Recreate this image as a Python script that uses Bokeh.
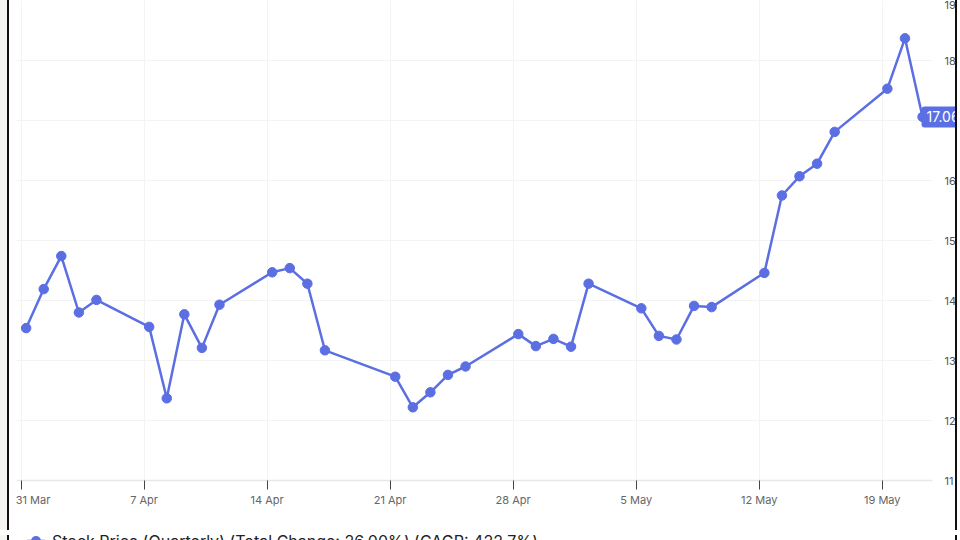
import pandas as pd
from bokeh.plotting import figure
from bokeh.layouts import column
from bokeh.models import (Range1d, FixedTicker, DatetimeTickFormatter,
                          Label, ColumnDataSource, Div)
from bokeh.embed import file_html
from bokeh.resources import INLINE

# ---- data -------------------------------------------------------------
dates = ["2025-03-31", "2025-04-01", "2025-04-02", "2025-04-03", "2025-04-04",
         "2025-04-07", "2025-04-08", "2025-04-09", "2025-04-10", "2025-04-11",
         "2025-04-14", "2025-04-15", "2025-04-16", "2025-04-17",
         "2025-04-21", "2025-04-22", "2025-04-23", "2025-04-24", "2025-04-25",
         "2025-04-28", "2025-04-29", "2025-04-30", "2025-05-01", "2025-05-02",
         "2025-05-05", "2025-05-06", "2025-05-07", "2025-05-08", "2025-05-09",
         "2025-05-12", "2025-05-13", "2025-05-14", "2025-05-15", "2025-05-16",
         "2025-05-19", "2025-05-20", "2025-05-21"]
prices = [13.54, 14.19, 14.74, 13.80, 14.01,
          13.56, 12.37, 13.77, 13.21, 13.93,
          14.47, 14.54, 14.28, 13.17,
          12.73, 12.22, 12.47, 12.76, 12.90,
          13.44, 13.24, 13.36, 13.23, 14.28,
          13.87, 13.41, 13.35, 13.91, 13.89,
          14.46, 15.75, 16.07, 16.28, 16.81,
          17.53, 18.37, 17.06]
tick_dates = ["2025-03-31", "2025-04-07", "2025-04-14", "2025-04-21",
              "2025-04-28", "2025-05-05", "2025-05-12", "2025-05-19"]
y_ticks = [11, 12, 13, 14, 15, 16, 17, 18, 19]
series_name = "Stock Price (Quarterly) (Total Change: 26.00%) (CAGR: 422.7%)"
last_label = "17.06"

# ---- styling ----------------------------------------------------------
BLUE = "#5b6fe3"
FONT = "Inter"
session_hour = pd.Timedelta(hours=7)   # quote time within each trading day

x = pd.to_datetime(dates) + session_hour
src = ColumnDataSource(dict(x=x, y=prices))

x_start = pd.Timestamp("2025-03-30 17:50")
x_end = pd.Timestamp("2025-05-23 04:00")
axis_end = pd.Timestamp("2025-05-21 20:28")

def ms(t):
    return pd.Timestamp(t).value / 1e6

frame_styles = {"margin-left": "7px",
                "border-left": "2px solid #111", "border-right": "2px solid #111",
                "box-shadow": "-7px 0 0 0 #f6f5f2"}

p = figure(width=950, height=530, x_axis_type="datetime",
           x_range=Range1d(x_start, x_end), y_range=Range1d(11, 19),
           output_backend="svg", toolbar_location=None,
           min_border_left=7, min_border_right=2, min_border_top=0,
           min_border_bottom=50, y_axis_location="right",
           styles=frame_styles)
p.outline_line_color = None
p.background_fill_color = "white"
p.border_fill_color = "white"

# grid
p.xgrid.grid_line_color = "#f3f3f3"
p.ygrid.grid_line_color = "#f3f3f3"
if "cross_bounds" in p.ygrid[0].properties():
    p.ygrid[0].cross_bounds = (ms(x_start), ms(axis_end))

# x axis
xa = p.xaxis[0]
xa.ticker = FixedTicker(ticks=[ms(d) for d in tick_dates])
p.xgrid.ticker = xa.ticker
xa.formatter = DatetimeTickFormatter(days="%-d %b", months="%-d %b")
first_txt = pd.Timestamp(tick_dates[0]).strftime("%-d %b")
xa.major_label_overrides = {ms(tick_dates[0]): "\u00a0" * 2 + first_txt}
xa.bounds = (ms(x_start), ms(axis_end))
xa.axis_line_color = "#e8e8e8"
xa.axis_line_width = 1.5
xa.major_tick_line_color = "#444444"
xa.major_tick_out = 9
xa.major_tick_in = 0
xa.minor_tick_line_color = None
xa.major_label_text_font = FONT
xa.major_label_text_font_size = "11px"
xa.major_label_text_color = "#666666"
xa.major_label_standoff = 3

# y axis (right) – labels sit just inside the right edge
ya = p.yaxis[0]
ya.ticker = FixedTicker(ticks=y_ticks)
ya.axis_line_color = None
ya.major_tick_line_color = None
ya.minor_tick_line_color = None
ya.major_tick_out = 0
ya.major_tick_in = 0
ya.major_label_standoff = -11
ya.major_label_text_font = FONT
ya.major_label_text_font_size = "11px"
ya.major_label_text_color = "#555555"

# series
ln = p.line("x", "y", source=src, line_color=BLUE, line_width=2.5)
sc = p.scatter("x", "y", source=src, size=9.5, fill_color=BLUE, line_color=BLUE)

# last value badge
lab = Label(x=ms(x[-1]), y=prices[-1], text=last_label, x_offset=-1,
            text_align="left", text_baseline="middle",
            text_color="white", text_font=FONT, text_font_size="14px",
            background_fill_color=BLUE, padding=5, border_radius=3)
p.add_layout(lab)

# legend row (continues below the window edge, as in the reference)
legend_html = (
    f'<div style="display:flex;align-items:center;height:20px;margin-top:-4px;'
    f'padding-left:18px;font-family:{FONT};font-size:16px;color:#222;'
    f'white-space:nowrap;line-height:20px">'
    f'<svg width="18" height="20" style="flex:none">'
    f'<line x1="0" y1="10" x2="18" y2="10" stroke="{BLUE}" stroke-width="2.5"/>'
    f'<circle cx="9" cy="10" r="5" fill="{BLUE}"/></svg>'
    f'<span style="margin-left:7px">{series_name}</span></div>'
)
leg_styles = dict(frame_styles, overflow="hidden", background="white")
leg = Div(text=legend_html, width=950, height=10, styles=leg_styles)

layout = column(p, leg, spacing=0)

open("out.html", "w").write(file_html(layout, INLINE))
